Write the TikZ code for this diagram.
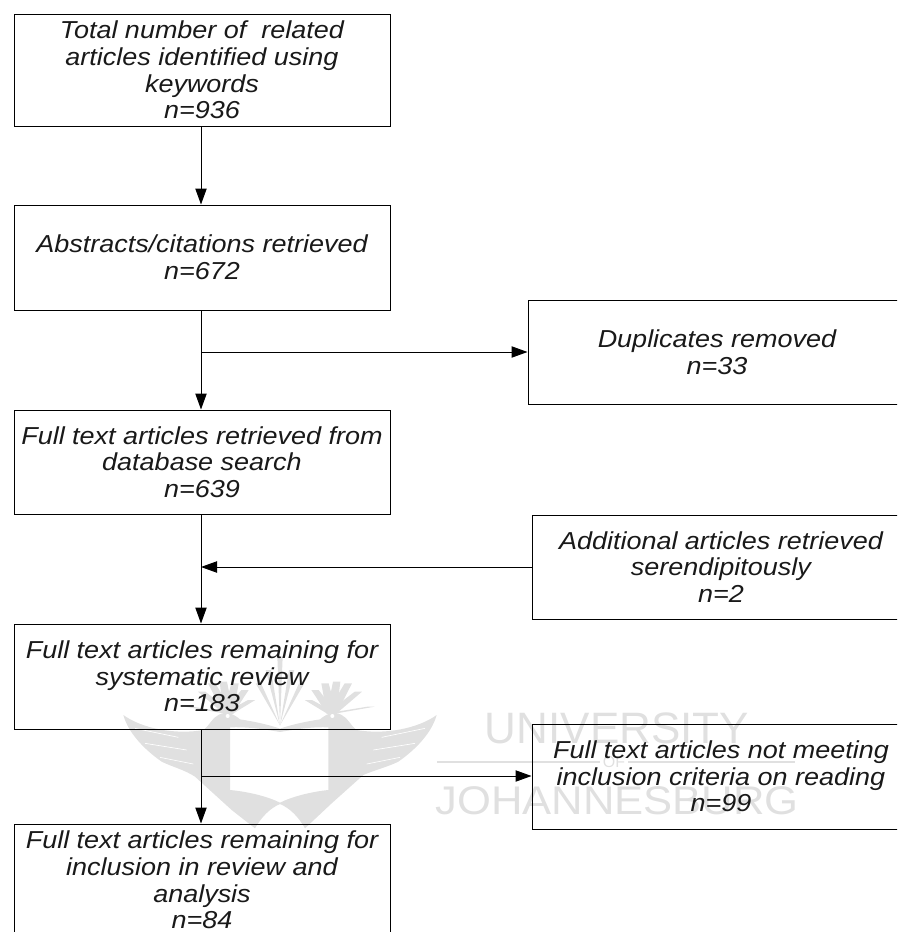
\documentclass[tikz,border=0pt]{standalone}
\usepackage{fontspec}
\setmainfont{Liberation Sans}
\newfontfamily\flowfont[FakeStretch=1.10]{Liberation Sans}
\newfontfamily\wmwide[FakeStretch=1.09]{Liberation Sans}
\usetikzlibrary{arrows.meta}
\definecolor{wm}{HTML}{E0E0E0}
\tikzset{
  flowbox/.style={draw=black,line width=0.75pt,align=center,inner sep=0pt,font=\flowfont\fontsize{18.4}{20}\selectfont\itshape,text=black!90},
  link/.style={draw=black,line width=0.75pt},
  arrowlink/.style={link,-{Triangle[length=12pt,width=8.5pt]}},
  wmtext/.style={text=wm,inner sep=0pt,font=\fontsize{33}{33}\selectfont},
  wmshape/.style={fill=wm,draw=none}
}
\begin{document}
\begin{tikzpicture}[x=0.75pt,y=-0.75pt]
\useasboundingbox (0,0) rectangle (897,932);
\clip (0,0) rectangle (897,932);
% watermark: birds
\begin{scope}[shift={(115,650)},x=0.25pt,y=-0.25pt]
\fill[wmshape,even odd rule]
  (25,195) .. controls (80,235) and (180,255) .. (265,240)
  .. controls (285,225) and (290,205) .. (310,195)
  .. controls (335,180) and (360,195) .. (375,208)
  .. controls (420,215) and (465,225) .. (495,236)
  .. controls (525,225) and (570,215) .. (615,208)
  .. controls (630,195) and (655,180) .. (680,195)
  .. controls (700,205) and (705,225) .. (725,240)
  .. controls (810,255) and (910,235) .. (965,195)
  .. controls (950,250) and (900,300) .. (850,335)
  .. controls (820,350) and (780,360) .. (745,375)
  -- (650,460) -- (570,535)
  .. controls (550,500) and (525,475) .. (495,462)
  .. controls (465,475) and (440,500) .. (420,535)
  -- (350,480) -- (240,380)
  .. controls (210,360) and (170,350) .. (140,335)
  .. controls (90,300) and (40,250) .. (25,195) -- cycle
  (345,232) .. controls (400,230) and (450,238) .. (495,246)
  .. controls (540,238) and (590,230) .. (640,232)
  -- (640,420)
  .. controls (590,425) and (530,440) .. (495,458)
  .. controls (460,440) and (400,425) .. (345,420) -- cycle;
\foreach \a/\b in {410/150,390/120,360/100,325/95,290/100,260/125,222/170}
  \fill[wmshape] (325,190) -- (355,190) -- (\a+11,\b) -- (\a-11,\b) -- cycle;
\foreach \a/\b in {580/150,600/120,630/100,665/95,700/100,730/125,768/170}
  \fill[wmshape] (635,190) -- (665,190) -- (\a+11,\b) -- (\a-11,\b) -- cycle;
\foreach \a/\b in {430/100,460/60,495/20,530/60,560/100}
  \fill[wmshape] (495,226) -- (\a-8,\b) -- (\a+8,\b) -- cycle;
\fill[white] (338,198) circle (6) (652,198) circle (6);
\foreach \p/\q/\r/\s in {60/235/190/262,90/280/215/300,135/322/235/342,930/235/800/262,900/280/775/300,855/322/755/342}
  \draw[white,line width=0.5pt] (\p,\q) -- (\r,\s);
\end{scope}
% watermark: words
\node[wmtext,anchor=center] (wmuni) at (617,728) {UNIVERSITY};
\node[wmtext,anchor=center,font=\wmwide\fontsize{30}{30}\selectfont] (wmjoh) at (617,801) {JOHANNESBURG};
\node[text=wm,inner sep=0pt,font=\fontsize{12}{12}\selectfont] (wmof) at (614,762) {OF};
\draw[wm,line width=0.8pt] (wmof.west) ++(-3,0) coordinate (wmla) -- (437,762);
\draw[wm,line width=0.8pt] (wmof.east) ++(3,0) coordinate (wmlb) -- (795,762);
% boxes
\node[flowbox,minimum width=282pt,minimum height=84pt] (b1) at (202,70)
  {Total number of\ \ related\\articles identified using\\keywords\\n=936};
\node[flowbox,minimum width=282pt,minimum height=78.75pt] (b2) at (202,257.5)
  {Abstracts/citations retrieved\\n=672};
\node[flowbox,minimum width=282pt,minimum height=78pt] (b3) at (202,462)
  {Full text articles retrieved from\\database search\\n=639};
\node[flowbox,minimum width=282pt,minimum height=78.75pt] (b4) at (202,676.5)
  {Full text articles remaining for\\systematic review\\n=183};
\node[flowbox,minimum width=282pt,minimum height=84pt] (b5) at (202,880)
  {Full text articles remaining for\\inclusion in review and\\analysis\\n=84};
\node[flowbox,minimum width=283.5pt,minimum height=78pt] (d) at (717,352)
  {Duplicates removed\\n=33};
\node[flowbox,minimum width=283.5pt,minimum height=78pt] (e) at (721,567)
  {Additional articles retrieved\\serendipitously\\n=2};
\node[flowbox,minimum width=283.5pt,minimum height=78.75pt] (f) at (721,776.5)
  {Full text articles not meeting\\inclusion criteria on reading\\n=99};
% junctions on the vertical lines
\coordinate (j1) at (201,352);
\coordinate (j2) at (201,567);
\coordinate (j3) at (201,776);
% connectors
\draw[arrowlink] (b1.south -| j1) -- (b2.north -| j1);
\draw[arrowlink] (b2.south -| j1) -- (b3.north -| j1);
\draw[arrowlink] (b3.south -| j1) -- (b4.north -| j1);
\draw[arrowlink] (b4.south -| j1) -- (b5.north -| j1);
\draw[arrowlink] (j1) -- (d.west |- j1);
\draw[arrowlink] (e.west |- j2) -- (j2);
\draw[arrowlink] (j3) -- (f.west |- j3);
\end{tikzpicture}
\end{document}
